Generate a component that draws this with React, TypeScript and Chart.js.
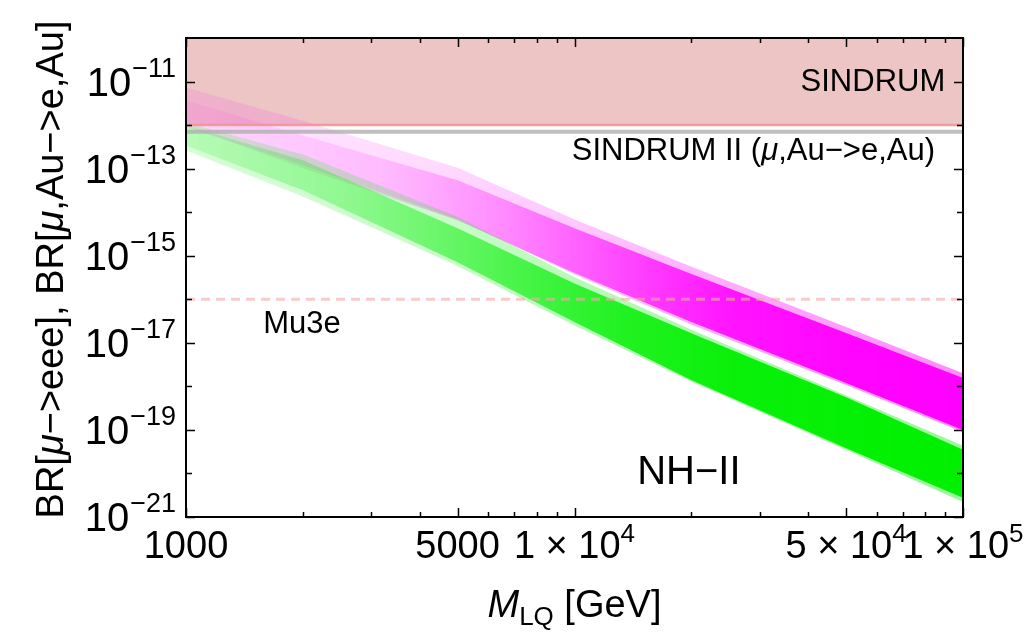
import { useEffect, useRef } from 'react';
import { Chart, registerables } from 'chart.js';

Chart.register(...registerables);

// band envelopes (log-log straight segments)
const massGeV = [1000, 2000, 5000, 10000, 20000, 50000, 100000];
// sparse outer edge of each scatter cloud
const magentaUpper = [7.3e-12, 1.26e-12, 1.05e-13, 6.8e-15, 5.6e-16, 2.3e-17, 2.0e-18];
const magentaLower = [8.9e-13, 1.2e-13, 6.9e-15, 3.7e-16, 2.6e-17, 1.07e-18, 8.9e-20];
const greenUpper = [1.15e-12, 2.1e-13, 7.9e-15, 3.2e-16, 2.0e-17, 6.2e-19, 4.3e-20];
const greenLower = [2.6e-13, 2.3e-14, 5.8e-16, 2.5e-17, 1.3e-18, 3.5e-20, 2.2e-21];
// dense core of each cloud
const magentaCoreUpper = [3.7e-12, 5.8e-13, 5.4e-14, 4.3e-15, 3.8e-16, 1.67e-17, 1.55e-18];
const magentaCoreLower = [9.8e-13, 1.02e-13, 6.5e-15, 4.0e-16, 3.0e-17, 1.2e-18, 1.0e-19];
const greenCoreUpper = [9.8e-13, 1.55e-13, 4.3e-15, 2.3e-16, 1.66e-17, 5.6e-19, 3.5e-20];
const greenCoreLower = [3.4e-13, 3.2e-14, 7.1e-16, 3.0e-17, 1.38e-18, 3.8e-20, 2.75e-21];

// experimental limits
const limitMass = [1000, 100000];
const sindrumBR = 1e-12;
const sindrumIIBR = 7e-13;
const mu3eBR = 1e-16;

// axes
const yTickExponents = [-11, -13, -15, -17, -19, -21];
const yMinorExponents = [-12, -14, -16, -18, -20];
const xMajorTicks = [1000, 5000, 10000, 50000, 100000];
const xTickBase = ['1000', '5000', '1 × 10', '5 × 10', '1 × 10'];
const xTickPower = ['', '', '4', '4', '5'];
const xMinorTicks = [2000, 3000, 4000, 6000, 7000, 8000, 9000, 20000, 30000, 40000, 60000, 70000, 80000, 90000];

type Part = { t: string; italic?: boolean; size?: number; dy?: number };

const yTitle: Part[] = [
  { t: 'BR[' }, { t: 'μ', italic: true }, { t: '−>eee], BR[' }, { t: 'μ', italic: true }, { t: ',Au−>e,Au]' },
];
const xTitle: Part[] = [{ t: 'M', italic: true }, { t: 'LQ', size: 26, dy: 8 }, { t: ' [GeV]' }];

const notes: { parts: Part[]; x: number; y: number; align: CanvasTextAlign; size: number }[] = [
  { parts: [{ t: 'SINDRUM' }], x: 90000, y: 1.1e-11, align: 'right', size: 31 },
  {
    parts: [{ t: 'SINDRUM II (' }, { t: 'μ', italic: true }, { t: ',Au−>e,Au)' }],
    x: 84700, y: 2.9e-13, align: 'right', size: 31,
  },
  { parts: [{ t: 'Mu3e' }], x: 1580, y: 3.0e-17, align: 'left', size: 31 },
  { parts: [{ t: 'NH−II' }], x: 19700, y: 1.2e-20, align: 'center', size: 40 },
];

const FONT = '"Liberation Sans", Arial, sans-serif';

function drawRich(ctx: CanvasRenderingContext2D, parts: Part[], x: number, y: number, align: CanvasTextAlign, size: number) {
  const fontFor = (p: Part) => `${p.italic ? 'italic ' : ''}${p.size ?? size}px ${FONT}`;
  let w = 0;
  for (const p of parts) { ctx.font = fontFor(p); w += ctx.measureText(p.t).width; }
  let cx = align === 'right' ? x - w : align === 'center' ? x - w / 2 : x;
  ctx.textAlign = 'left';
  ctx.textBaseline = 'alphabetic';
  for (const p of parts) {
    ctx.font = fontFor(p);
    ctx.fillText(p.t, cx, y + (p.dy ?? 0));
    cx += ctx.measureText(p.t).width;
  }
}

const framePlugin = {
  id: 'frame',
  afterDraw(chart: Chart) {
    const { ctx, chartArea: a } = chart;
    const x = chart.scales.x, y = chart.scales.y;
    ctx.save();
    ctx.fillStyle = '#000';
    ctx.strokeStyle = '#000';

    // inside notes
    for (const n of notes) {
      drawRich(ctx, n.parts, x.getPixelForValue(n.x), y.getPixelForValue(n.y) + n.size * 0.36, n.align, n.size);
    }

    // inward ticks on all four sides
    ctx.lineWidth = 1.5;
    ctx.beginPath();
    const xt = (v: number, len: number) => {
      const px = Math.round(x.getPixelForValue(v)) + 0.5;
      ctx.moveTo(px, a.bottom); ctx.lineTo(px, a.bottom - len);
      ctx.moveTo(px, a.top); ctx.lineTo(px, a.top + len);
    };
    const yt = (v: number, len: number) => {
      const py = Math.round(y.getPixelForValue(v)) + 0.5;
      ctx.moveTo(a.left, py); ctx.lineTo(a.left + len, py);
      ctx.moveTo(a.right, py); ctx.lineTo(a.right - len, py);
    };
    xMajorTicks.forEach(v => xt(v, 9));
    xMinorTicks.forEach(v => xt(v, 5));
    yTickExponents.forEach(e => yt(10 ** e, 9));
    yMinorExponents.forEach(e => yt(10 ** e, 6));
    ctx.stroke();

    ctx.lineWidth = 2;
    ctx.strokeRect(a.left, a.top, a.right - a.left, a.bottom - a.top);

    // y tick labels 10^e
    yTickExponents.forEach(e => {
      const py = y.getPixelForValue(10 ** e);
      const exp = '−' + String(-e);
      ctx.font = `27px ${FONT}`;
      const ew = ctx.measureText(exp).width;
      const right = a.left - 10;
      drawRich(ctx, [{ t: exp, size: 27 }], right, py - 5, 'right', 27);
      drawRich(ctx, [{ t: '10' }], right - ew - 1, py + 14, 'right', 40);
    });

    // x tick labels
    xMajorTicks.forEach((v, i) => {
      const px = x.getPixelForValue(v);
      const parts: Part[] = [{ t: xTickBase[i] }];
      if (xTickPower[i]) parts.push({ t: xTickPower[i], size: 26, dy: -16 });
      drawRich(ctx, parts, px, 558, 'center', 38);
    });

    // axis titles
    drawRich(ctx, xTitle, (a.left + a.right) / 2, 617, 'center', 38);
    ctx.translate(50, (a.top + a.bottom) / 2 - 8);
    ctx.rotate(-Math.PI / 2);
    drawRich(ctx, yTitle, 0, 13, 'center', 38);
    ctx.restore();
  },
};

const pts = (ys: number[]) => massGeV.map((m, i) => ({ x: m, y: ys[i] }));
const flat = (v: number) => limitMass.map(m => ({ x: m, y: v }));

// horizontal alpha ramp: the clouds get denser towards large masses
function bandFill(rgb: string, stops: [number, number][]) {
  return (c: any) => {
    const a = c.chart.chartArea;
    if (!a) return `rgba(${rgb},0.5)`;
    const g = c.chart.ctx.createLinearGradient(a.left, 0, a.right, 0);
    stops.forEach(([f, al]) => g.addColorStop(f, `rgba(${rgb},${al})`));
    return g;
  };
}

export default function App() {
  const ref = useRef<HTMLCanvasElement>(null);

  useEffect(() => {
    document.body.style.margin = '0';
    if (!ref.current) return;
    const line = { pointRadius: 0, borderWidth: 0, tension: 0 };
    const chart = new Chart(ref.current, {
      type: 'line',
      data: {
        datasets: [
          { ...line, data: flat(sindrumBR), borderColor: 'rgba(240,150,150,0.9)', borderWidth: 2.5, fill: false, order: 0 },
          { ...line, data: flat(sindrumIIBR), borderColor: 'rgba(175,175,175,0.8)', borderWidth: 4, fill: false, order: 1 },
          { ...line, data: flat(mu3eBR), borderColor: 'rgba(244,170,165,0.6)', borderWidth: 3, borderDash: [9, 6], fill: false, order: 2 },
          {
            ...line, data: pts(greenCoreUpper), fill: '+1', order: 3,
            backgroundColor: bandFill('0,240,0', [[0, 0.15], [0.2, 0.3], [0.38, 0.55], [0.55, 0.8], [0.7, 0.95], [1, 1]]),
          },
          { ...line, data: pts(greenCoreLower), fill: false, order: 3 },
          {
            ...line, data: pts(greenUpper), fill: '+1', order: 4,
            backgroundColor: bandFill('0,240,0', [[0, 0.16], [0.3, 0.2], [0.5, 0.28], [0.75, 0.35], [1, 0.4]]),
          },
          { ...line, data: pts(greenLower), fill: false, order: 4 },
          {
            ...line, data: pts(magentaCoreUpper), fill: '+1', order: 5,
            backgroundColor: bandFill('255,0,255', [[0, 0.06], [0.25, 0.15], [0.4, 0.32], [0.55, 0.6], [0.7, 0.88], [0.85, 0.97], [1, 1]]),
          },
          { ...line, data: pts(magentaCoreLower), fill: false, order: 5 },
          {
            ...line, data: pts(magentaUpper), fill: '+1', order: 6,
            backgroundColor: bandFill('255,0,255', [[0, 0.1], [0.3, 0.14], [0.5, 0.22], [0.75, 0.35], [1, 0.45]]),
          },
          { ...line, data: pts(magentaLower), fill: false, order: 6 },
          { ...line, data: flat(sindrumBR), backgroundColor: 'rgba(222,150,150,0.55)', fill: 'end', order: 7 },
        ],
      },
      options: {
        responsive: true,
        maintainAspectRatio: false,
        animation: false,
        layout: { padding: { left: 186, right: 61, top: 38, bottom: 123 } },
        plugins: { legend: { display: false }, tooltip: { enabled: false } },
        scales: {
          x: { type: 'logarithmic', min: 1000, max: 100000, display: false },
          y: { type: 'logarithmic', min: 1e-21, max: 1e-10, display: false },
        },
      },
      plugins: [framePlugin],
    });
    return () => { chart.destroy(); };
  }, []);

  return (
    <div style={{ width: 1024, height: 640, position: 'relative', background: '#fff' }}>
      <canvas ref={ref} />
    </div>
  );
}
